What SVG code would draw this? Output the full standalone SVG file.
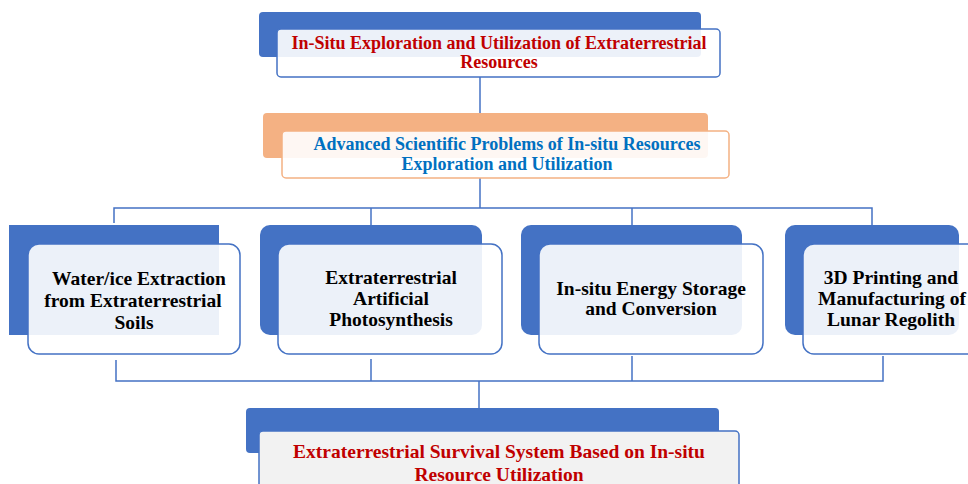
<svg xmlns="http://www.w3.org/2000/svg" width="968" height="484" viewBox="0 0 968 484">
<style>
.back{fill:#4472C4}
.backO{fill:#F4B183}
.front{fill:#FFFFFF;fill-opacity:0.9;stroke:#4472C4;stroke-width:1.5}
.frontO{fill:#FFFFFF;fill-opacity:0.9;stroke:#F4B183;stroke-width:1.5}
.frontG{fill:#F2F2F2;stroke:#4472C4;stroke-width:1.5}
.t{font-family:"Liberation Serif","Times New Roman",serif;font-weight:bold;text-anchor:middle}
.red{fill:#C00000;font-size:18px}
.blue{fill:#0070C0;font-size:18px}
.blk{fill:#000000;font-size:19.5px}
.redb{fill:#C00000;font-size:19.5px}
.conn{fill:none;stroke:#4472C4;stroke-width:1.5}
</style>
<rect width="968" height="484" fill="#FFFFFF"/>
<g id="connectors">
<path class="conn" d="M480 77 V131"/>
<path class="conn" d="M480 178 V208"/>
<path class="conn" d="M114 223 V208 H872 V225"/>
<path class="conn" d="M371 208 V225"/>
<path class="conn" d="M632 208 V225"/>
<path class="conn" d="M116 360 V381 H883 V356"/>
<path class="conn" d="M371 359 V381"/>
<path class="conn" d="M632 356 V381"/>
<path class="conn" d="M479 381 V408"/>
</g>
<g id="top">
<rect class="back" x="259" y="12" width="442" height="45" rx="4"/>
<rect class="front" x="277" y="29" width="443" height="48" rx="4"/>
<text class="t red" x="499" y="48.5">In-Situ Exploration and Utilization of Extraterrestrial</text>
<text class="t red" x="499" y="68">Resources</text>
</g>
<g id="problems">
<rect class="backO" x="263" y="113" width="445" height="45" rx="4"/>
<rect class="frontO" x="282" y="131" width="447" height="47" rx="4"/>
<text class="t blue" x="507" y="150">Advanced Scientific Problems of In-situ Resources</text>
<text class="t blue" x="507" y="169.5">Exploration and Utilization</text>
</g>
<g id="water">
<rect class="back" x="9" y="225" width="210" height="110"/>
<rect class="front" x="28" y="244" width="212" height="110" rx="11"/>
<text class="t blk" x="139" y="285">Water/ice Extraction</text>
<text class="t blk" x="133" y="307">from Extraterrestrial</text>
<text class="t blk" x="134" y="329">Soils</text>
</g>
<g id="photosynthesis">
<rect class="back" x="260" y="225" width="222" height="110" rx="10"/>
<rect class="front" x="278" y="244" width="224" height="110" rx="11"/>
<text class="t blk" x="391" y="284">Extraterrestrial</text>
<text class="t blk" x="391" y="305">Artificial</text>
<text class="t blk" x="391" y="326">Photosynthesis</text>
</g>
<g id="energy">
<rect class="back" x="521" y="225" width="221" height="110" rx="10"/>
<rect class="front" x="539" y="244" width="224" height="110" rx="11"/>
<text class="t blk" x="651" y="295">In-situ Energy Storage</text>
<text class="t blk" x="651" y="315">and Conversion</text>
</g>
<g id="printing">
<rect class="back" x="785" y="225" width="174" height="110" rx="10"/>
<rect class="front" x="803" y="244" width="224" height="110" rx="11"/>
<text class="t blk" x="891" y="284">3D Printing and</text>
<text class="t blk" x="892" y="305">Manufacturing of</text>
<text class="t blk" x="891" y="326">Lunar Regolith</text>
</g>
<g id="survival">
<rect class="back" x="246" y="408" width="473" height="45" rx="4"/>
<rect class="frontG" x="259" y="431" width="480" height="70" rx="4"/>
<text class="t redb" x="499" y="458">Extraterrestrial Survival System Based on In-situ</text>
<text class="t redb" x="499" y="481">Resource Utilization</text>
</g>
</svg>
